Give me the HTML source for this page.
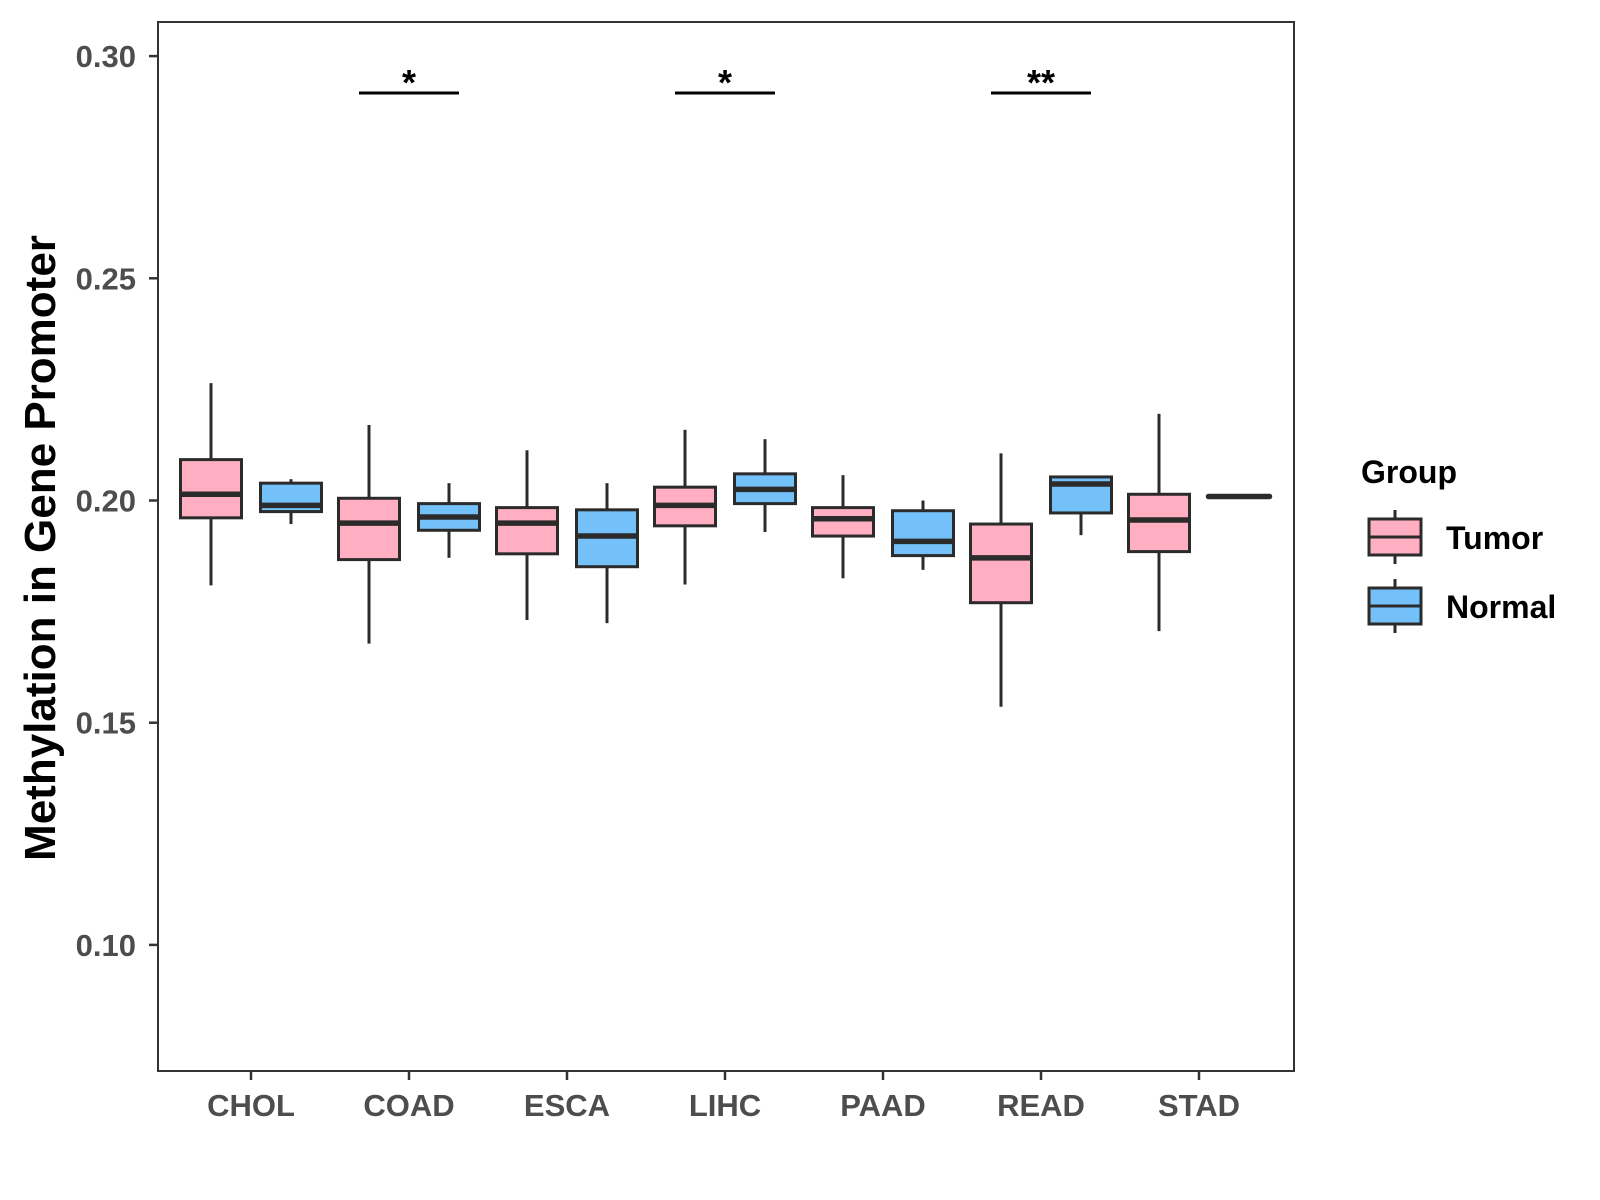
<!DOCTYPE html>
<html><head><meta charset="utf-8"><style>
html,body{margin:0;padding:0;background:#fff;}
svg{display:block;font-family:"Liberation Sans",Arial,sans-serif;}
</style></head><body>
<svg id="chart" width="1600" height="1200" viewBox="0 0 1600 1200"></svg>
<script>
const categories=["CHOL","COAD","ESCA","LIHC","PAAD","READ","STAD"];
const tumorLow=[0.1809,0.1678,0.1731,0.1811,0.1825,0.1536,0.1706];
const tumorQ1=[0.1961,0.1867,0.1880,0.1943,0.1920,0.1770,0.1885];
const tumorMed=[0.2014,0.1949,0.1949,0.1989,0.1959,0.1871,0.1956];
const tumorQ3=[0.2092,0.2005,0.1984,0.2030,0.1984,0.1947,0.2014];
const tumorHigh=[0.2264,0.2170,0.2113,0.2159,0.2057,0.2106,0.2195];
const normalLow=[0.1947,0.1871,0.1724,0.1929,0.1844,0.1922,0.2009];
const normalQ1=[0.1975,0.1933,0.1851,0.1993,0.1876,0.1972,0.2009];
const normalMed=[0.1989,0.1963,0.1920,0.2025,0.1908,0.2037,0.2009];
const normalQ3=[0.2039,0.1993,0.1979,0.2060,0.1977,0.2053,0.2009];
const normalHigh=[0.2048,0.2039,0.2039,0.2138,0.2000,0.2055,0.2009];
const yTicks=[0.10,0.15,0.20,0.25,0.30];
const yTickLabels=["0.10","0.15","0.20","0.25","0.30"];
const sigCategories=["COAD","LIHC","READ"];
const sigLabels=["*","*","**"];
const sigLevel=0.2917;

const NS="http://www.w3.org/2000/svg";
const svg=document.getElementById("chart");
const P={l:158,r:1294,t:22,b:1071};
function y(v){return 500.5-(v-0.2)*4444;}
function x(i){return 251+i*158;}
function mk(tag,attrs,parent){const e=document.createElementNS(NS,tag);for(const k in attrs)e.setAttribute(k,attrs[k]);(parent||svg).appendChild(e);return e;}

const panel=mk("rect",{x:P.l,y:P.t,width:P.r-P.l,height:P.b-P.t,fill:"#fff",stroke:"#333","stroke-width":2});



yTicks.forEach((t,i)=>{
  const g=mk("g",{});
  
  
  mk("line",{x1:P.l-9,x2:P.l,y1:y(t),y2:y(t),stroke:"#333","stroke-width":2.5},g);
  const tx=mk("text",{x:P.l-22,y:y(t)+11,"text-anchor":"end","font-size":31,"font-weight":"bold",fill:"#4d4d4d"},g);
  tx.textContent=yTickLabels[i];
});
categories.forEach((c,i)=>{
  const g=mk("g",{});
  
  
  mk("line",{x1:x(i),x2:x(i),y1:P.b,y2:P.b+9,stroke:"#333","stroke-width":2.5},g);
  const tx=mk("text",{x:x(i),y:1116,"text-anchor":"middle","font-size":31,"font-weight":"bold",fill:"#4d4d4d"},g);
  tx.textContent=c;
});

function box(cx,lo,q1,med,q3,hi,fill,name){
  const g=mk("g",{});
  
  
  const w=61;
  mk("line",{x1:cx,x2:cx,y1:y(hi),y2:y(q3),stroke:"#2b2b2b","stroke-width":3},g);
  mk("line",{x1:cx,x2:cx,y1:y(q1),y2:y(lo),stroke:"#2b2b2b","stroke-width":3},g);
  if(q3>q1) mk("rect",{x:cx-w/2,y:y(q3),width:w,height:y(q1)-y(q3),fill:fill,stroke:"#2b2b2b","stroke-width":3},g);
  mk("line",{x1:cx-w/2,x2:cx+w/2,y1:y(med),y2:y(med),stroke:"#2b2b2b","stroke-width":5.5,"stroke-linecap":q3>q1?"butt":"round"},g);
}
categories.forEach((c,i)=>{
  box(x(i)-40,tumorLow[i],tumorQ1[i],tumorMed[i],tumorQ3[i],tumorHigh[i],"#ffafc1","box-tumor-"+c.toLowerCase());
  box(x(i)+40,normalLow[i],normalQ1[i],normalMed[i],normalQ3[i],normalHigh[i],"#74c1f9","box-normal-"+c.toLowerCase());
});

sigCategories.forEach((c,k)=>{
  const i=categories.indexOf(c);
  const g=mk("g",{});
  
  
  mk("line",{x1:x(i)-50,x2:x(i)+50,y1:y(sigLevel),y2:y(sigLevel),stroke:"#000","stroke-width":3},g);
  const t=mk("text",{x:x(i),y:y(sigLevel)+2,"text-anchor":"middle","font-size":36,"font-weight":"bold",fill:"#000"},g);
  t.textContent=sigLabels[k];
});

const yt=mk("text",{x:0,y:0,transform:"translate(55,548) rotate(-90)","text-anchor":"middle","font-size":44,"font-weight":"bold",fill:"#000"});


yt.textContent="Methylation in Gene Promoter";

const lg=mk("g",{});


const lt=mk("text",{x:1361,y:483,"font-size":32,"font-weight":"bold",fill:"#000"},lg);
lt.textContent="Group";
[["Tumor","#ffafc1",519],["Normal","#74c1f9",588]].forEach(([lab,col,top])=>{
  const e=mk("g",{},lg);
  
  
  mk("line",{x1:1395,x2:1395,y1:top-9,y2:top+45,stroke:"#2b2b2b","stroke-width":3},e);
  mk("rect",{x:1369,y:top,width:52,height:36,fill:col,stroke:"#2b2b2b","stroke-width":3},e);
  mk("line",{x1:1369,x2:1421,y1:top+18,y2:top+18,stroke:"#2b2b2b","stroke-width":3},e);
  const t=mk("text",{x:1446,y:top+30,"font-size":32,"font-weight":"bold",fill:"#000"},e);
  t.textContent=lab;
});
</script>
</body></html>
